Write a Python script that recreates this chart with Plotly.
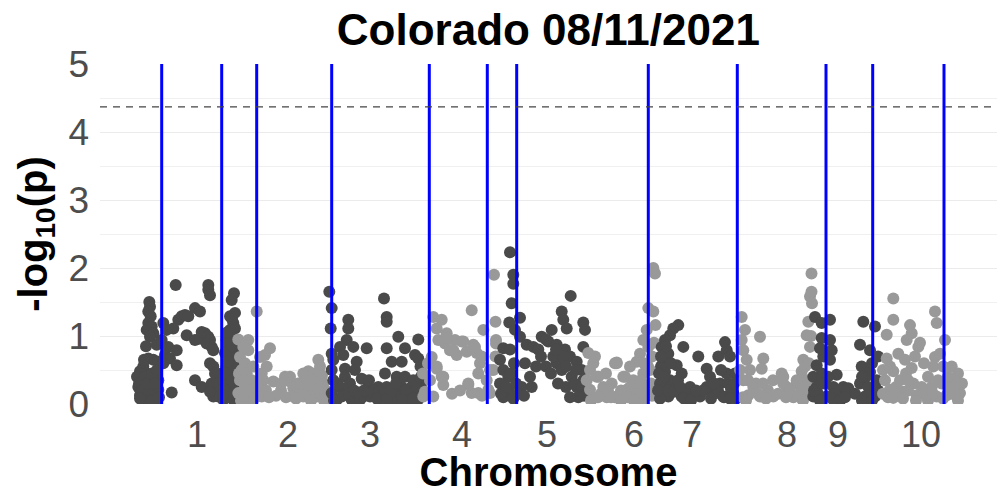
import plotly.graph_objects as go

# Chromosome layout on the cumulative genome axis
chrom_names = ["1", "2", "3", "4", "5", "6", "7", "8", "9", "10"]
chrom_offsets = [0, 99, 192, 285, 359, 449, 519, 601, 673, 741]
chrom_label_pos = [60, 151, 233, 325, 410, 497, 555, 650, 701, 784]
chrom_colors = ["#4a4a4a", "#999999"]

# Candidate marker positions (cumulative) and significance threshold
marker_positions = [24.7, 84.7, 119.7, 194.7, 292.3, 350.3, 379.7, 511.3, 600.3, 689.0, 735.7, 807.0]
threshold = 4.37

# Per-chromosome SNP positions and -log10(p) values
chr1_pos = [12.3, 13, 11.3, 13.7, 11.3, 14.7, 9.7, 16.3, 13, 9, 19.7, 11.3, 16.3, 21.3, 6.3, 3, 9.7, 4.7, 13, 1.3,
            8, 16.3, 3, 11.3, 18, 6.3, 19.7, 0, 21.3, 21.3, 13,
            26.3, 29.7, 24.7, 31.3, 28, 33, 39.7, 39.7, 34.7, 26.3, 38.7, 41.3, 44.7, 48, 51.3, 36.3, 49.7, 58, 63,
            58, 63, 64.7, 68, 71.3, 73, 74.7, 69.7, 76.3, 73, 76.3, 58, 64.7, 71.3, 71.3, 73, 78, 79.7, 78, 81.3,
            97, 94.7, 93, 98, 96.3, 93, 98, 94.7, 98, 91.3, 93, 89.7, 96.3, 91.3, 88, 93, 86.3, 83, 84.7, 98,
            98, 89.7, 88, 93, 98, 89.7, 96.3, 86.3, 93, 98, 74.7, 76.3, 73,
            2, 5, 8, 10, 15, 18, 20, 7, 3, 15, 22, 88, 91, 95, 86, 95, 97, 90, 95]
chr1_logp = [1.50, 1.43, 1.36, 1.29, 1.19, 1.14, 1.09, 1.04, 0.99, 0.85, 0.87, 0.67, 0.65, 0.62, 0.55, 0.48, 0.45, 0.35, 0.35, 0.25,
             0.23, 0.25, 0.13, 0.11, 0.16, 0.06, 0.06, 0.40, 0.35, 0.21, 0.16,
             1.19, 1.09, 0.94, 0.84, 0.72, 0.67, 0.79, 0.57, 0.17, 0.60, 1.75, 1.24, 1.29, 1.31, 1.29, 1.11, 1.01, 1.41, 1.36,
             0.94, 0.96, 1.06, 1.04, 0.99, 0.94, 0.84, 0.89, 0.79, 0.60, 0.55, 0.35, 0.25, 1.75, 1.68, 1.60, 0.45, 0.30, 0.16, 0.11,
             1.63, 1.53, 1.29, 1.34, 1.19, 1.09, 1.11, 0.99, 0.94, 0.84, 0.70, 0.55, 0.45, 0.35, 0.21, 0.11, 0.06, 0.25, 0.45, 0.70,
             0.79, 0.94, 0.75, 0.30, 0.25, 0.16, 0.06, 0.35, 0.55, 0.55, 0.30, 0.11, 0.18,
             0.30, 0.20, 0.40, 0.30, 0.45, 0.30, 0.50, 0.65, 0.08, 0.05, 0.10, 0.45, 0.62, 0.85, 0.13, 0.35, 0.15, 1.05, 1.25]

chr2_pos = [2.3, 12.3, 20.7, 34, 29, 24, 30.7, 25.7, 37.3, 49, 54, 57.3, 60.7, 7.3, 4, 9, 5.7, 12.3, 10.7, 4,
            9, 2.3, 10.7, 15.7, 15.7, 17.3, 14, 22.3, 20.7, 27.3, 25.7,
            54, 60.7, 57.3, 67.3, 72.3, 77.3, 82.3, 84, 70.7, 77.3, 87.3, 67.3, 80.7, 89, 64, 74,
            51, 45, 40, 62, 68, 80, 86, 90,
            5, 8, 12, 18, 30, 33, 45, 50, 65, 70, 75, 85, 88, 60, 75, 3, 8]
chr2_logp = [0.95, 0.94, 1.36, 0.82, 0.72, 0.69, 0.55, 0.45, 0.33, 0.40, 0.33, 0.23, 0.16, 0.84, 0.69, 0.60, 0.50, 0.79, 0.45, 0.35,
             0.25, 0.16, 0.11, 0.18, 0.35, 0.55, 0.06, 0.25, 0.11, 0.35, 0.11,
             0.40, 0.25, 0.11, 0.45, 0.48, 0.45, 0.65, 0.55, 0.25, 0.25, 0.30, 0.11, 0.11, 0.11, 0.16, 0.11,
             0.38, 0.20, 0.12, 0.30, 0.35, 0.38, 0.42, 0.20,
             0.05, 0.12, 0.20, 0.08, 0.20, 0.10, 0.30, 0.10, 0.30, 0.40, 0.35, 0.25, 0.05, 0.08, 0.05, 0.45, 0.35]

chr3_pos = [0.3, 2.7, 1.7, 2.7, 4.3, 2.7, 4.3, 2.7, 7.7, 19.3, 19.3, 17.7, 24.3, 37.7, 11, 14.3, 27.7, 16, 26, 16,
            32.7, 21, 39.3, 11, 17.7, 27.7, 34.3, 41, 12.7, 22.7, 31,
            55, 57.7, 57.7, 69.3, 89.3, 57.7, 76, 86, 89.3, 62.7, 72.7, 56, 67.7, 76, 84.3, 91.5, 49.3, 57.7, 64.3, 72.7,
            81, 52.7, 61, 69.3, 77.7, 86, 49.3, 66, 81, 91, 92, 44.3,
            45, 50, 60, 70, 75, 85, 90, 92,
            20, 25, 30, 35, 55, 62, 67, 77, 82, 88, 89, 48, 58, 73, 5, 8, 40, 84]
chr3_logp = [1.65, 1.41, 1.11, 0.74, 0.65, 0.50, 0.35, 0.16, 0.06, 1.24, 1.11, 0.94, 0.84, 0.82, 0.84, 0.72, 0.62, 0.52, 0.50, 0.40,
             0.37, 0.30, 0.25, 0.25, 0.16, 0.13, 0.11, 0.11, 0.11, 0.06, 0.06,
             1.55, 1.28, 1.21, 0.99, 0.95, 0.82, 0.82, 0.72, 0.67, 0.62, 0.62, 0.45, 0.40, 0.40, 0.35, 0.55, 0.25, 0.25, 0.23, 0.25,
             0.23, 0.13, 0.11, 0.13, 0.11, 0.13, 0.06, 0.06, 0.06, 0.11, 0.25, 0.16,
             0.20, 0.18, 0.20, 0.18, 0.15, 0.20, 0.30, 0.40,
             0.15, 0.20, 0.16, 0.20, 0.15, 0.18, 0.30, 0.20, 0.15, 0.25, 0.06, 0.08, 0.06, 0.06, 0.05, 0.30, 0.35, 0.08]

chr4_pos = [11.3, 19.7, 14.7, 24.7, 16.3, 23, 33, 28, 34.7, 9.7, 14.7, 19.7, 21.3, 8, 3, 1, 1.3, 11.3,
            49.7, 24.7, 39.7, 51.3, 31.3, 44.7, 54.7, 61.3, 72, 73.5, 74, 14.7, 21.3, 46.3, 58, 64.7, 56.3, 49.7, 68, 71.3, 73.5,
            41.3, 53, 59.7, 46.3, 56.3, 66.3, 68, 74, 30, 38, 60, 6]
chr4_logp = [1.28, 1.24, 1.11, 1.04, 0.94, 0.89, 0.94, 0.79, 0.72, 0.69, 0.52, 0.40, 0.28, 0.35, 0.18, 0.45, 0.11, 0.11,
             1.38, 0.97, 0.92, 0.87, 0.79, 0.77, 0.75, 1.09, 1.90, 1.21, 0.94, 0.55, 0.40, 0.30, 0.60, 0.35, 0.16, 0.16, 0.16, 0.50, 0.70,
             0.92, 0.84, 0.70, 0.28, 0.45, 0.21, 0.50, 0.89, 0.15, 0.20, 0.12, 0.60]

chr5_pos = [14, 17.3, 17.3, 15.7, 24, 13.3, 19, 24, 7.3, 14, 30.7, 37.3, 45.7, 55.7, 65.7, 67.3, 70.7, 74.7, 87.3, 89,
            52.3, 60.7, 69, 74, 80.7, 87.3, 4, 7.3, 12.3, 4, 12.3, 7.3, 17.3, 25.7, 34, 35.7, 29, 42.3, 60.7, 65.7,
            75.7, 80.7, 82.3, 74, 85.7, 57.3, 67.3, 87.3, 84,
            5, 10, 15, 18, 20, 22, 28, 40, 45, 50, 55, 62, 70, 78, 80, 86, 88, 70, 60, 50]
chr5_logp = [2.23, 1.90, 1.77, 1.48, 1.27, 1.20, 1.09, 0.99, 0.82, 0.80, 0.87, 0.84, 0.99, 1.09, 1.36, 1.24, 1.11, 1.59, 1.20, 1.09,
             0.92, 0.87, 0.80, 0.70, 0.62, 0.84, 0.65, 0.50, 0.40, 0.30, 0.20, 0.10, 0.08, 0.25, 0.40, 0.25, 0.60, 0.80, 0.60, 0.50,
             0.40, 0.25, 0.10, 0.10, 0.50, 0.70, 0.70, 0.35, 0.20,
             0.15, 0.25, 0.45, 0.60, 0.30, 0.15, 0.12, 0.55, 0.70, 0.55, 0.45, 0.30, 0.25, 0.30, 0.50, 0.25, 0.12, 0.55, 0.80, 0.95]

chr6_pos = [2.3, 7.3, 12.3, 0.7, 4, 17.3, 29, 29, 20.7, 9, 30.7, 4, 10.7, 30.7, 39,
            67.3, 69, 62.3, 67.3, 69.5, 60.7, 57.3, 62.3, 54, 50.7, 30.7, 44, 37.3, 47.3, 57.3, 30.7, 40.7, 50.7, 60.7, 57.3,
            25.7, 44, 52.3, 45, 50, 35, 55, 65, 62, 66, 15, 22,
            5, 12, 25, 35, 42, 48, 55, 58, 64, 68, 66, 20]
chr6_logp = [0.75, 0.60, 0.40, 0.35, 0.21, 0.25, 0.60, 0.10, 0.10, 0.70, 0.60, 0.50, 0.40, 0.10, 0.40,
             2.00, 1.92, 1.41, 1.36, 1.16, 1.09, 0.94, 0.84, 0.74, 0.62, 0.61, 0.55, 0.40, 0.35, 0.45, 0.11, 0.21, 0.11, 0.21, 0.06,
             0.30, 0.25, 0.25, 0.15, 0.30, 0.20, 0.15, 0.30, 0.55, 0.70, 0.15, 0.20,
             0.05, 0.10, 0.10, 0.05, 0.10, 0.05, 0.35, 0.60, 0.50, 0.90, 0.12, 0.45]

chr7_pos = [22.3, 17.3, 14, 9, 5.7, 27.3, 12.3, 7.3, 20.7, 9, 25.7, 14, 7.3, 20.7, 12.3, 25.7, 34, 37.3, 42.3, 50.7,
            54, 50.7, 57.3, 62.3, 69, 70.7, 74, 70.7, 64, 72.3, 77.3, 67.3, 60.7, 44, 79,
            4, 5, 10, 17, 22, 30, 47, 62, 75, 80, 4,
            2, 3, 5, 8, 12, 15, 18, 24, 28, 35, 40, 55, 58, 65, 68, 74, 78, 10]
chr7_logp = [1.16, 1.11, 1.01, 0.94, 0.84, 0.84, 0.74, 0.62, 0.57, 0.47, 0.45, 0.35, 0.25, 0.21, 0.11, 0.11, 0.25, 0.13, 0.70, 0.52,
             0.40, 0.25, 0.16, 0.70, 0.91, 0.79, 0.70, 0.45, 0.30, 0.30, 0.16, 0.11, 0.16, 0.11, 0.45,
             0.30, 0.55, 0.15, 0.30, 0.35, 0.15, 0.20, 0.20, 0.22, 0.08, 0.08,
             0.20, 0.45, 0.70, 0.40, 0.20, 0.60, 0.18, 0.25, 0.08, 0.05, 0.20, 0.08, 0.30, 0.50, 0.10, 0.08, 0.30, 0.85]

chr8_pos = [3.7, 7, 22, 3.7, 5.3, 25.3, 8.7, 12, 23.7, 5.3, 15.3, 10.3, 22, 43.7, 45.3, 35.3, 48.7, 58.7, 63.7, 68.7,
            70.3, 72, 73.5, 73.5, 74, 62, 55.3, 65.3, 72, 45.3, 58.7, 67, 62, 55.3, 68.7,
            30, 35, 18, 2, 40, 52, 70, 73,
            5, 10, 8, 20, 25, 28, 48, 62, 66, 70, 71, 65]
chr8_logp = [1.28, 1.09, 0.99, 0.94, 0.79, 0.67, 0.65, 0.50, 0.52, 0.35, 0.25, 0.13, 0.11, 0.45, 0.30, 0.11, 0.25, 0.30, 0.48, 1.01,
             1.21, 1.58, 1.65, 1.92, 1.48, 0.10, 0.10, 0.65, 0.84, 0.40, 0.35, 0.55, 0.16, 0.11, 0.25,
             0.20, 0.35, 0.30, 0.50, 0.15, 0.20, 0.35, 1.00,
             0.10, 0.35, 0.05, 0.15, 0.30, 0.08, 0.10, 0.35, 0.25, 0.15, 0.60, 0.05]

chr9_pos = [5, 11.7, 20, 11.7, 20, 10, 21.7, 13.3, 6.7, 20, 3.3, 11.7, 26.7, 6.7, 23.3, 33.3, 3.3, 16.7, 28.3, 38.3,
            53.3, 65, 50, 60, 68, 51.7, 60, 50, 58.3, 55, 65, 66.7, 15, 8, 25, 45, 62, 56, 68,
            4, 10, 12, 18, 22, 30, 35, 52, 52, 58, 62, 65]
chr9_logp = [1.28, 1.19, 1.24, 0.97, 0.94, 0.82, 0.79, 0.70, 0.57, 0.65, 0.40, 0.45, 0.43, 0.25, 0.25, 0.25, 0.11, 0.11, 0.11, 0.23,
             1.21, 1.14, 0.87, 0.79, 0.70, 0.55, 0.47, 0.30, 0.25, 0.11, 0.11, 0.35, 0.30, 0.15, 0.15, 0.15, 0.60, 0.40, 0.20,
             0.20, 0.05, 0.30, 0.40, 0.08, 0.05, 0.10, 0.05, 0.40, 0.12, 0.05, 0.25]

chr10_pos = [15.3, 15.3, 8.7, 32, 33.7, 40.3, 28.7, 20.3, 8.7, 27, 33.7, 15.3, 7, 22, 35.3, 12, 25.3, 38.7, 15.3,
             57, 58.7, 67, 57, 62, 55.3, 65.3, 73.7, 53.7, 63.7, 75.3, 82, 58.7, 68.7, 78.7, 82, 48.7, 43.7,
             42, 46, 50, 5, 20, 30, 45, 80, 72, 5, 28,
             10, 18, 25, 30, 38, 50, 55, 60, 65, 70, 75, 80, 84, 12, 37]
chr10_logp = [1.55, 1.24, 1.02, 1.16, 1.04, 0.84, 0.94, 0.74, 0.67, 0.65, 0.53, 0.48, 0.35, 0.35, 0.30, 0.21, 0.18, 0.13, 0.09,
              1.36, 1.19, 0.94, 0.69, 0.74, 0.55, 0.55, 0.55, 0.25, 0.30, 0.35, 0.28, 0.11, 0.13, 0.11, 0.16, 0.11, 0.25,
              0.90, 0.60, 0.40, 0.15, 0.12, 0.20, 0.15, 0.45, 0.25, 0.50, 0.45,
              0.10, 0.25, 0.08, 0.35, 0.05, 0.05, 0.15, 0.35, 0.08, 0.40, 0.15, 0.05, 0.30, 0.55, 0.70]

chrom_pos = [chr1_pos, chr2_pos, chr3_pos, chr4_pos, chr5_pos, chr6_pos, chr7_pos, chr8_pos, chr9_pos, chr10_pos]
chrom_logp = [chr1_logp, chr2_logp, chr3_logp, chr4_logp, chr5_logp, chr6_logp, chr7_logp, chr8_logp, chr9_logp, chr10_logp]

FONT = "Liberation Sans, Arial, sans-serif"

fig = go.Figure()

for i, name in enumerate(chrom_names):
    fig.add_trace(go.Scatter(
        x=[chrom_offsets[i] + p for p in chrom_pos[i]],
        y=chrom_logp[i],
        mode="markers",
        name=name,
        marker=dict(size=12, color=chrom_colors[i % 2], line=dict(width=0)),
        showlegend=False,
    ))

# Candidate marker lines
for xp in marker_positions:
    fig.add_shape(type="line", xref="x", yref="y", x0=xp, x1=xp, y0=0, y1=5,
                  line=dict(color="#0000ff", width=3), layer="above")

# Significance threshold
fig.add_shape(type="line", xref="paper", yref="y", x0=0, x1=1, y0=threshold, y1=threshold,
              line=dict(color="#444444", width=1.3, dash="7px,6px"), layer="above")

fig.update_layout(
    width=997, height=494,
    margin=dict(l=100, r=0, t=64, b=90),
    paper_bgcolor="white", plot_bgcolor="white",
    title=dict(text="Colorado 08/11/2021", x=0.55, xanchor="center",
               y=1 - 30 / 494, yanchor="middle", yref="container",
               font=dict(family=FONT, size=44, color="#000000", weight="bold")),
    xaxis=dict(
        range=[-37, 860], showgrid=False, zeroline=False, showline=False,
        tickmode="array", tickvals=chrom_label_pos, ticktext=chrom_names,
        ticks="", ticklabelstandoff=6,
        tickfont=dict(family=FONT, size=36, color="#4d4d4d"),
        title=dict(text="Chromosome", standoff=2,
                   font=dict(family=FONT, size=40, color="#000000", weight="bold")),
    ),
    yaxis=dict(
        range=[0, 5], showgrid=True, gridcolor="#ebebeb", gridwidth=1.2,
        zeroline=False, showline=False,
        tickmode="array", tickvals=[0, 1, 2, 3, 4, 5],
        ticks="", ticklabelstandoff=10,
        tickfont=dict(family=FONT, size=37, color="#4d4d4d"),
        minor=dict(dtick=0.5, showgrid=True, gridcolor="#f0f0f0", gridwidth=1),
        title=dict(text="-log<sub>10</sub>(p)", standoff=8,
                   font=dict(family=FONT, size=40, color="#000000", weight="bold")),
    ),
)

fig.write_html("out.html")
